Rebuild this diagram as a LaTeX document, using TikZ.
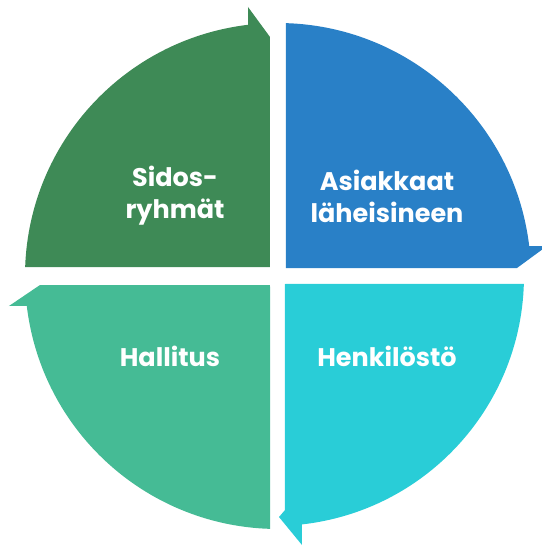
\documentclass[tikz,border=0pt]{standalone}
\usepackage{fontspec}
\usetikzlibrary{calc}
\setmainfont{Poppins}[BoldFont={* Bold}]
\definecolor{cgreen}{HTML}{3E8A56}
\definecolor{cblue}{HTML}{2980C7}
\definecolor{cteal}{HTML}{29CDD7}
\definecolor{csea}{HTML}{45BB95}
\tikzset{
  sector/.style={draw=none},
  lbl/.style={text=white, font=\bfseries\fontsize{25.5}{32}\selectfont, align=center, inner sep=0pt}
}
\begin{document}
\begin{tikzpicture}[x=1pt,y=1pt]
\useasboundingbox (-278,-270) rectangle (263,276);
% top-left (green)
\fill[cgreen] (-8,9) -- (178:253) arc[start angle=178, end angle=96.8, radius=253]
  -- (-30,269) -- (-8,239) -- cycle;
% top-right (blue)
\fill[cblue] (8,8) -- (88.2:253) arc[start angle=88.2, end angle=6.8, radius=253]
  -- (269,30) -- (239,8) -- cycle;
% bottom-right (teal)
\fill[cteal] (7,-8) -- ($(-4,0)+(-1.8:250)$) arc[start angle=-1.8, end angle=-83.6, radius=250]
  -- (24,-269) -- (1,-241) -- (7,-234) -- cycle;
% bottom-left (sea green)
\fill[csea] (-8,-9) -- (268.2:253) arc[start angle=268.2, end angle=186.8, radius=253]
  -- (-269,-30) -- (-238,-9) -- cycle;
% labels
\node[lbl] (sid) at (-103,80) {Sidos-\\ryhmät};
\node[lbl] (asi) at (109,80) {Asiakkaat\\läheisineen};
\node[lbl] (hal) at (-108,-80) {Hallitus};
\node[lbl] (hen) at (109,-80) {Henkilöstö};
\end{tikzpicture}
\end{document}
